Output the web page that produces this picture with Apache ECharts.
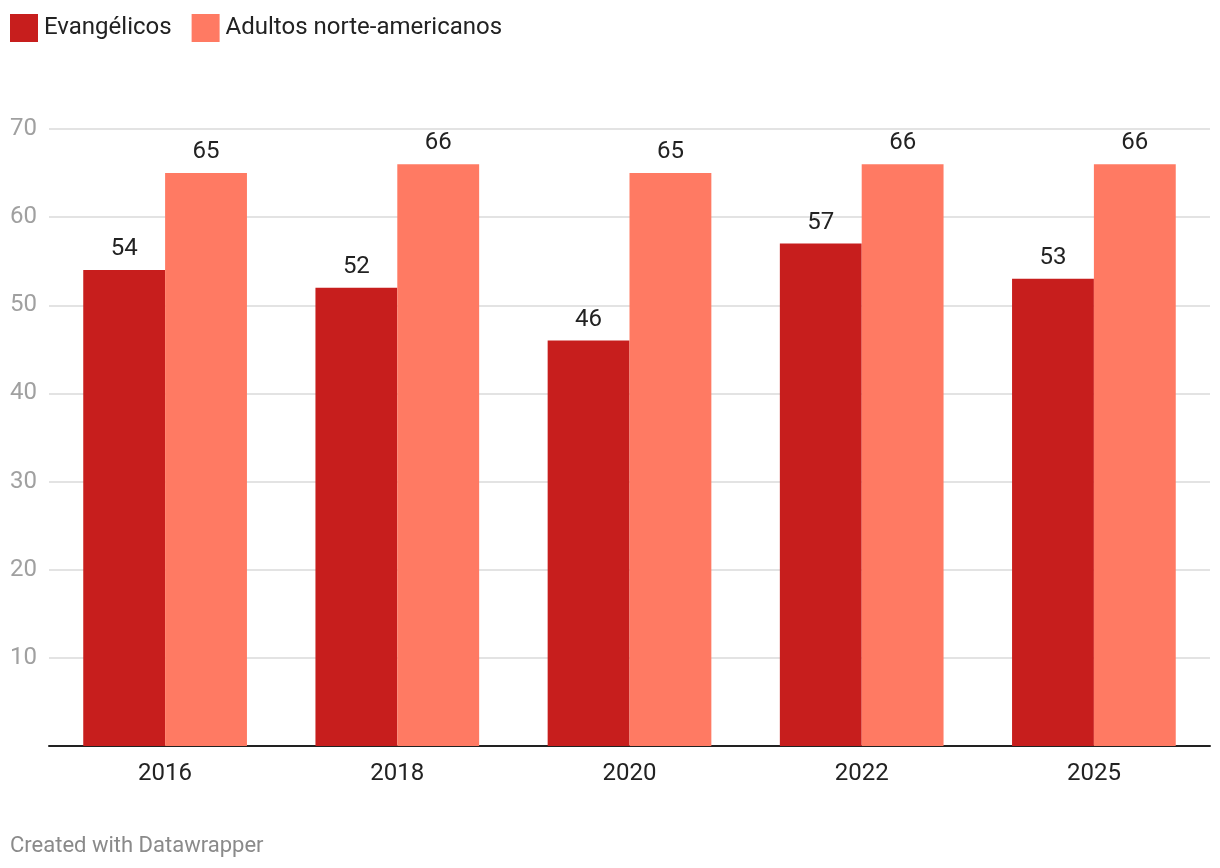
<!DOCTYPE html>
<html><head><meta charset="utf-8">
<script src="https://cdn.jsdelivr.net/npm/echarts@6/dist/echarts.min.js"></script>
<style>html,body{margin:0;padding:0;background:#fff}#c{width:1220px;height:868px}</style>
</head><body><div id="c"></div>
<script>
const categories = ['2016','2018','2020','2022','2025'];
const evangelicos = [54, 52, 46, 57, 53];
const adultos = [65, 66, 65, 66, 66];
const seriesNames = ['Evangélicos', 'Adultos norte-americanos'];
const yTicks = [10, 20, 30, 40, 50, 60, 70];

const chart = echarts.init(document.getElementById('c'), null, {renderer: 'canvas'});
const font = 'Roboto';
const lbl = {show: true, position: 'top', distance: 9, color: '#222', fontFamily: font, fontSize: 24};
chart.setOption({
  animation: false,
  textStyle: {fontFamily: font},
  legend: {
    left: 10, top: 14, padding: 0, itemWidth: 28, itemHeight: 28, itemGap: 20, icon: 'rect',
    textStyle: {fontFamily: font, fontSize: 24, color: '#222', padding: [3, 0, 0, 1]},
    data: seriesNames
  },
  grid: {left: 49, right: 10, top: 129, bottom: 122, containLabel: false},
  xAxis: {
    type: 'category', data: categories,
    axisLine: {lineStyle: {color: '#222', width: 2}},
    axisTick: {show: false},
    axisLabel: {fontFamily: font, fontSize: 24, color: '#222', margin: 16}
  },
  yAxis: {
    type: 'value', min: 0, max: 70, interval: 10,
    axisLine: {show: false}, axisTick: {show: false},
    axisLabel: {fontFamily: font, fontSize: 24, color: '#a0a0a0', margin: 39, align: 'left',
      formatter: v => yTicks.includes(v) ? String(v) : ''},
    splitLine: {lineStyle: {color: '#e3e3e3', width: 2}}
  },
  graphic: [{type: 'text', left: 10, top: 835, style: {text: 'Created with Datawrapper', fontFamily: font, fontSize: 22, fill: '#8a8a8a'}}],
  series: [
    {name: seriesNames[0], type: 'bar', data: evangelicos, barGap: '0%', barCategoryGap: '29.5%', itemStyle: {color: '#c71e1d'}, label: lbl},
    {name: seriesNames[1], type: 'bar', data: adultos, barGap: '0%', barCategoryGap: '29.5%', itemStyle: {color: '#ff7a63'}, label: lbl}
  ]
});
</script></body></html>
